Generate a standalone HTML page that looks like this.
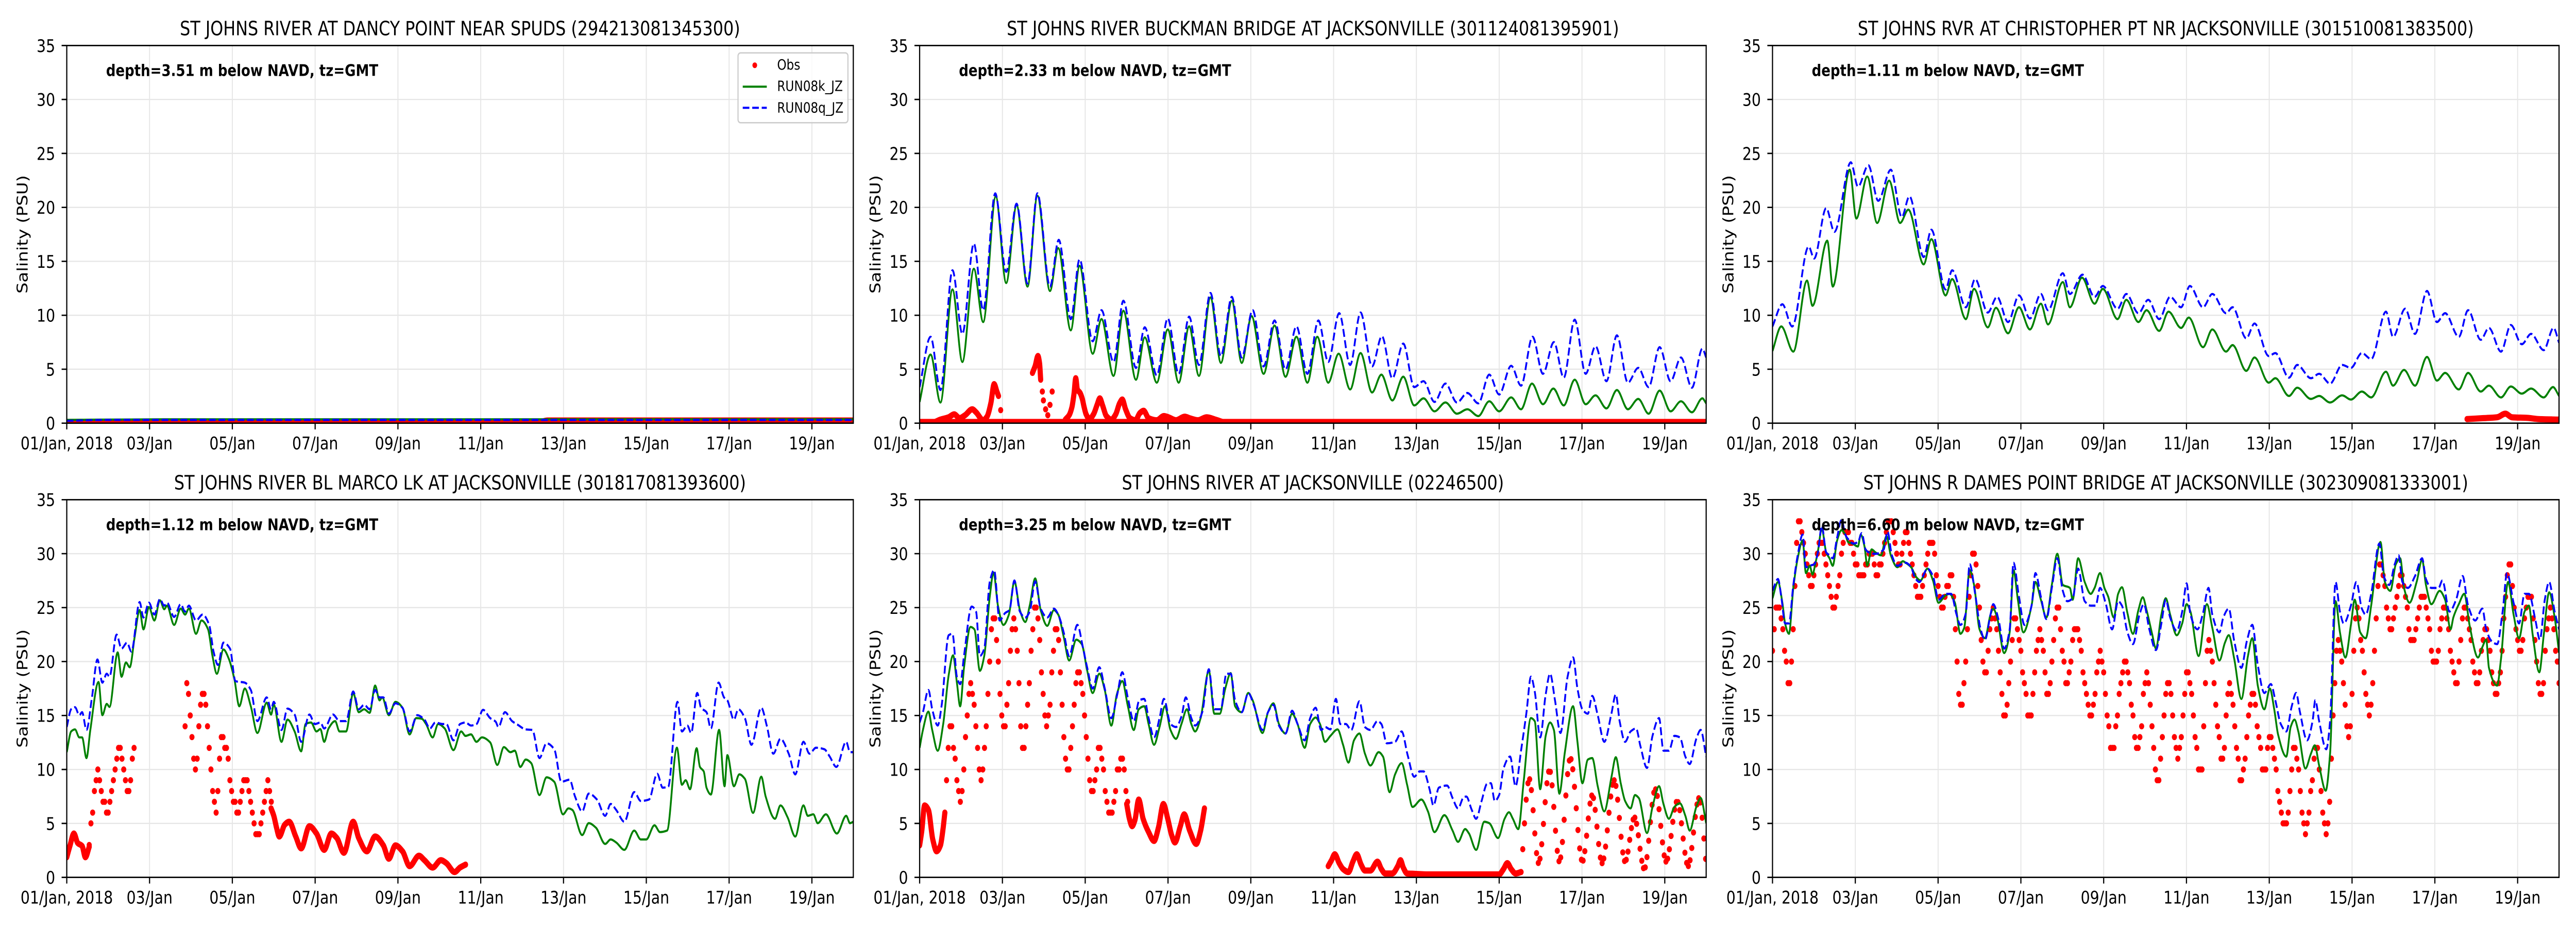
<!DOCTYPE html>
<html><head><meta charset="utf-8">
<style>
html,body{margin:0;padding:0;background:#fff;overflow:hidden;width:100%;height:100%;}
svg{display:block;width:100vw;height:100vh;}
text{font-family:"DejaVu Sans","Liberation Sans",sans-serif;fill:#000;}
.tl{font-size:34px;}
.ye text{text-anchor:end;}
.xm text{text-anchor:middle;}
.ti{font-size:38px;text-anchor:middle;}
.dp{font-size:31px;font-weight:bold;}
.lg{font-size:27.8px;}
.grid line{stroke:#e6e6e6;stroke-width:2.3;}
.tk{stroke:#000;stroke-width:2.7;fill:none;}
.fr{fill:none;stroke:#000;stroke-width:2.7;}
</style></head><body>
<svg id="s" xmlns="http://www.w3.org/2000/svg" viewBox="0 0 6000 1800" preserveAspectRatio="none">
<rect width="6000" height="1800" fill="#fff"/>
<defs><clipPath id="c"><rect x="0" y="0" width="1832" height="733.3"/></clipPath></defs>

<!-- Panel 0 -->
<g transform="translate(155.5,88.4)">
<g class="grid"><line x1="192.84" y1="0" x2="192.84" y2="733.3"/><line x1="385.68" y1="0" x2="385.68" y2="733.3"/><line x1="578.53" y1="0" x2="578.53" y2="733.3"/><line x1="771.37" y1="0" x2="771.37" y2="733.3"/><line x1="964.21" y1="0" x2="964.21" y2="733.3"/><line x1="1157.05" y1="0" x2="1157.05" y2="733.3"/><line x1="1349.89" y1="0" x2="1349.89" y2="733.3"/><line x1="1542.74" y1="0" x2="1542.74" y2="733.3"/><line x1="1735.58" y1="0" x2="1735.58" y2="733.3"/><line x1="0" y1="104.76" x2="1832" y2="104.76"/><line x1="0" y1="209.51" x2="1832" y2="209.51"/><line x1="0" y1="314.27" x2="1832" y2="314.27"/><line x1="0" y1="419.03" x2="1832" y2="419.03"/><line x1="0" y1="523.79" x2="1832" y2="523.79"/><line x1="0" y1="628.54" x2="1832" y2="628.54"/></g>
<g clip-path="url(#c)" id="d0"></g>
<rect class="fr" x="0" y="0" width="1832" height="733.3"/>
<path class="tk" d="M-12 0H0M-12 104.76H0M-12 209.51H0M-12 314.27H0M-12 419.03H0M-12 523.79H0M-12 628.54H0M-12 733.3H0M0 733.3V745.3M192.84 733.3V745.3M385.68 733.3V745.3M578.53 733.3V745.3M771.37 733.3V745.3M964.21 733.3V745.3M1157.05 733.3V745.3M1349.89 733.3V745.3M1542.74 733.3V745.3M1735.58 733.3V745.3"/>
<g class="tl ye"><text x="-27" y="12.4">35</text><text x="-27" y="117.2">30</text><text x="-27" y="221.9">25</text><text x="-27" y="326.7">20</text><text x="-27" y="431.4">15</text><text x="-27" y="536.2">10</text><text x="-27" y="641">5</text><text x="-27" y="745.7">0</text></g>
<g class="tl xm"><text x="0" y="784.3">01/Jan, 2018</text><text x="192.84" y="784.3">03/Jan</text><text x="385.68" y="784.3">05/Jan</text><text x="578.53" y="784.3">07/Jan</text><text x="771.37" y="784.3">09/Jan</text><text x="964.21" y="784.3">11/Jan</text><text x="1157.05" y="784.3">13/Jan</text><text x="1349.89" y="784.3">15/Jan</text><text x="1542.74" y="784.3">17/Jan</text><text x="1735.58" y="784.3">19/Jan</text></g>
<text class="tl" transform="translate(-102,366.65) rotate(-90)" text-anchor="middle" dominant-baseline="central">Salinity (PSU)</text>
<text class="ti" x="916" y="-20" textLength="1305" lengthAdjust="spacingAndGlyphs">ST JOHNS RIVER AT DANCY POINT NEAR SPUDS (294213081345300)</text>
<text class="dp" x="91.5" y="59.3" textLength="634" lengthAdjust="spacingAndGlyphs">depth=3.51 m below NAVD, tz=GMT</text>
<rect x="1563.5" y="14.3" width="256" height="135.6" rx="6" fill="#fff" fill-opacity="0.8" stroke="#cccccc" stroke-width="2.7"/>
<circle cx="1602.5" cy="38.3" r="5.5" fill="#ff0000"/>
<line x1="1574.5" y1="79.9" x2="1630.5" y2="79.9" stroke="#008000" stroke-width="4.2"/>
<line x1="1574.5" y1="120.9" x2="1630.5" y2="120.9" stroke="#0000ff" stroke-width="4.2" stroke-dasharray="15.4 6.7"/>
<text class="lg" x="1654.5" y="46.5">Obs</text>
<text class="lg" x="1654.5" y="88">RUN08k_JZ</text>
<text class="lg" x="1654.5" y="130">RUN08q_JZ</text>
</g>

<!-- Panel 1 -->
<g transform="translate(2142,88.4)">
<g class="grid"><line x1="192.84" y1="0" x2="192.84" y2="733.3"/><line x1="385.68" y1="0" x2="385.68" y2="733.3"/><line x1="578.53" y1="0" x2="578.53" y2="733.3"/><line x1="771.37" y1="0" x2="771.37" y2="733.3"/><line x1="964.21" y1="0" x2="964.21" y2="733.3"/><line x1="1157.05" y1="0" x2="1157.05" y2="733.3"/><line x1="1349.89" y1="0" x2="1349.89" y2="733.3"/><line x1="1542.74" y1="0" x2="1542.74" y2="733.3"/><line x1="1735.58" y1="0" x2="1735.58" y2="733.3"/><line x1="0" y1="104.76" x2="1832" y2="104.76"/><line x1="0" y1="209.51" x2="1832" y2="209.51"/><line x1="0" y1="314.27" x2="1832" y2="314.27"/><line x1="0" y1="419.03" x2="1832" y2="419.03"/><line x1="0" y1="523.79" x2="1832" y2="523.79"/><line x1="0" y1="628.54" x2="1832" y2="628.54"/></g>
<g clip-path="url(#c)" id="d1"></g>
<rect class="fr" x="0" y="0" width="1832" height="733.3"/>
<path class="tk" d="M-12 0H0M-12 104.76H0M-12 209.51H0M-12 314.27H0M-12 419.03H0M-12 523.79H0M-12 628.54H0M-12 733.3H0M0 733.3V745.3M192.84 733.3V745.3M385.68 733.3V745.3M578.53 733.3V745.3M771.37 733.3V745.3M964.21 733.3V745.3M1157.05 733.3V745.3M1349.89 733.3V745.3M1542.74 733.3V745.3M1735.58 733.3V745.3"/>
<g class="tl ye"><text x="-27" y="12.4">35</text><text x="-27" y="117.2">30</text><text x="-27" y="221.9">25</text><text x="-27" y="326.7">20</text><text x="-27" y="431.4">15</text><text x="-27" y="536.2">10</text><text x="-27" y="641">5</text><text x="-27" y="745.7">0</text></g>
<g class="tl xm"><text x="0" y="784.3">01/Jan, 2018</text><text x="192.84" y="784.3">03/Jan</text><text x="385.68" y="784.3">05/Jan</text><text x="578.53" y="784.3">07/Jan</text><text x="771.37" y="784.3">09/Jan</text><text x="964.21" y="784.3">11/Jan</text><text x="1157.05" y="784.3">13/Jan</text><text x="1349.89" y="784.3">15/Jan</text><text x="1542.74" y="784.3">17/Jan</text><text x="1735.58" y="784.3">19/Jan</text></g>
<text class="tl" transform="translate(-102,366.65) rotate(-90)" text-anchor="middle" dominant-baseline="central">Salinity (PSU)</text>
<text class="ti" x="916" y="-20" textLength="1426" lengthAdjust="spacingAndGlyphs">ST JOHNS RIVER BUCKMAN BRIDGE AT JACKSONVILLE (301124081395901)</text>
<text class="dp" x="91.5" y="59.3" textLength="634" lengthAdjust="spacingAndGlyphs">depth=2.33 m below NAVD, tz=GMT</text>
</g>

<!-- Panel 2 -->
<g transform="translate(4128.5,88.4)">
<g class="grid"><line x1="192.84" y1="0" x2="192.84" y2="733.3"/><line x1="385.68" y1="0" x2="385.68" y2="733.3"/><line x1="578.53" y1="0" x2="578.53" y2="733.3"/><line x1="771.37" y1="0" x2="771.37" y2="733.3"/><line x1="964.21" y1="0" x2="964.21" y2="733.3"/><line x1="1157.05" y1="0" x2="1157.05" y2="733.3"/><line x1="1349.89" y1="0" x2="1349.89" y2="733.3"/><line x1="1542.74" y1="0" x2="1542.74" y2="733.3"/><line x1="1735.58" y1="0" x2="1735.58" y2="733.3"/><line x1="0" y1="104.76" x2="1832" y2="104.76"/><line x1="0" y1="209.51" x2="1832" y2="209.51"/><line x1="0" y1="314.27" x2="1832" y2="314.27"/><line x1="0" y1="419.03" x2="1832" y2="419.03"/><line x1="0" y1="523.79" x2="1832" y2="523.79"/><line x1="0" y1="628.54" x2="1832" y2="628.54"/></g>
<g clip-path="url(#c)" id="d2"></g>
<rect class="fr" x="0" y="0" width="1832" height="733.3"/>
<path class="tk" d="M-12 0H0M-12 104.76H0M-12 209.51H0M-12 314.27H0M-12 419.03H0M-12 523.79H0M-12 628.54H0M-12 733.3H0M0 733.3V745.3M192.84 733.3V745.3M385.68 733.3V745.3M578.53 733.3V745.3M771.37 733.3V745.3M964.21 733.3V745.3M1157.05 733.3V745.3M1349.89 733.3V745.3M1542.74 733.3V745.3M1735.58 733.3V745.3"/>
<g class="tl ye"><text x="-27" y="12.4">35</text><text x="-27" y="117.2">30</text><text x="-27" y="221.9">25</text><text x="-27" y="326.7">20</text><text x="-27" y="431.4">15</text><text x="-27" y="536.2">10</text><text x="-27" y="641">5</text><text x="-27" y="745.7">0</text></g>
<g class="tl xm"><text x="0" y="784.3">01/Jan, 2018</text><text x="192.84" y="784.3">03/Jan</text><text x="385.68" y="784.3">05/Jan</text><text x="578.53" y="784.3">07/Jan</text><text x="771.37" y="784.3">09/Jan</text><text x="964.21" y="784.3">11/Jan</text><text x="1157.05" y="784.3">13/Jan</text><text x="1349.89" y="784.3">15/Jan</text><text x="1542.74" y="784.3">17/Jan</text><text x="1735.58" y="784.3">19/Jan</text></g>
<text class="tl" transform="translate(-102,366.65) rotate(-90)" text-anchor="middle" dominant-baseline="central">Salinity (PSU)</text>
<text class="ti" x="916" y="-20" textLength="1435" lengthAdjust="spacingAndGlyphs">ST JOHNS RVR AT CHRISTOPHER PT NR JACKSONVILLE (301510081383500)</text>
<text class="dp" x="91.5" y="59.3" textLength="634" lengthAdjust="spacingAndGlyphs">depth=1.11 m below NAVD, tz=GMT</text>
</g>

<!-- Panel 3 -->
<g transform="translate(155.5,970.3)">
<g class="grid"><line x1="192.84" y1="0" x2="192.84" y2="733.3"/><line x1="385.68" y1="0" x2="385.68" y2="733.3"/><line x1="578.53" y1="0" x2="578.53" y2="733.3"/><line x1="771.37" y1="0" x2="771.37" y2="733.3"/><line x1="964.21" y1="0" x2="964.21" y2="733.3"/><line x1="1157.05" y1="0" x2="1157.05" y2="733.3"/><line x1="1349.89" y1="0" x2="1349.89" y2="733.3"/><line x1="1542.74" y1="0" x2="1542.74" y2="733.3"/><line x1="1735.58" y1="0" x2="1735.58" y2="733.3"/><line x1="0" y1="104.76" x2="1832" y2="104.76"/><line x1="0" y1="209.51" x2="1832" y2="209.51"/><line x1="0" y1="314.27" x2="1832" y2="314.27"/><line x1="0" y1="419.03" x2="1832" y2="419.03"/><line x1="0" y1="523.79" x2="1832" y2="523.79"/><line x1="0" y1="628.54" x2="1832" y2="628.54"/></g>
<g clip-path="url(#c)" id="d3"></g>
<rect class="fr" x="0" y="0" width="1832" height="733.3"/>
<path class="tk" d="M-12 0H0M-12 104.76H0M-12 209.51H0M-12 314.27H0M-12 419.03H0M-12 523.79H0M-12 628.54H0M-12 733.3H0M0 733.3V745.3M192.84 733.3V745.3M385.68 733.3V745.3M578.53 733.3V745.3M771.37 733.3V745.3M964.21 733.3V745.3M1157.05 733.3V745.3M1349.89 733.3V745.3M1542.74 733.3V745.3M1735.58 733.3V745.3"/>
<g class="tl ye"><text x="-27" y="12.4">35</text><text x="-27" y="117.2">30</text><text x="-27" y="221.9">25</text><text x="-27" y="326.7">20</text><text x="-27" y="431.4">15</text><text x="-27" y="536.2">10</text><text x="-27" y="641">5</text><text x="-27" y="745.7">0</text></g>
<g class="tl xm"><text x="0" y="784.3">01/Jan, 2018</text><text x="192.84" y="784.3">03/Jan</text><text x="385.68" y="784.3">05/Jan</text><text x="578.53" y="784.3">07/Jan</text><text x="771.37" y="784.3">09/Jan</text><text x="964.21" y="784.3">11/Jan</text><text x="1157.05" y="784.3">13/Jan</text><text x="1349.89" y="784.3">15/Jan</text><text x="1542.74" y="784.3">17/Jan</text><text x="1735.58" y="784.3">19/Jan</text></g>
<text class="tl" transform="translate(-102,366.65) rotate(-90)" text-anchor="middle" dominant-baseline="central">Salinity (PSU)</text>
<text class="ti" x="916" y="-20" textLength="1332" lengthAdjust="spacingAndGlyphs">ST JOHNS RIVER BL MARCO LK AT JACKSONVILLE (301817081393600)</text>
<text class="dp" x="91.5" y="59.3" textLength="634" lengthAdjust="spacingAndGlyphs">depth=1.12 m below NAVD, tz=GMT</text>
</g>

<!-- Panel 4 -->
<g transform="translate(2142,970.3)">
<g class="grid"><line x1="192.84" y1="0" x2="192.84" y2="733.3"/><line x1="385.68" y1="0" x2="385.68" y2="733.3"/><line x1="578.53" y1="0" x2="578.53" y2="733.3"/><line x1="771.37" y1="0" x2="771.37" y2="733.3"/><line x1="964.21" y1="0" x2="964.21" y2="733.3"/><line x1="1157.05" y1="0" x2="1157.05" y2="733.3"/><line x1="1349.89" y1="0" x2="1349.89" y2="733.3"/><line x1="1542.74" y1="0" x2="1542.74" y2="733.3"/><line x1="1735.58" y1="0" x2="1735.58" y2="733.3"/><line x1="0" y1="104.76" x2="1832" y2="104.76"/><line x1="0" y1="209.51" x2="1832" y2="209.51"/><line x1="0" y1="314.27" x2="1832" y2="314.27"/><line x1="0" y1="419.03" x2="1832" y2="419.03"/><line x1="0" y1="523.79" x2="1832" y2="523.79"/><line x1="0" y1="628.54" x2="1832" y2="628.54"/></g>
<g clip-path="url(#c)" id="d4"></g>
<rect class="fr" x="0" y="0" width="1832" height="733.3"/>
<path class="tk" d="M-12 0H0M-12 104.76H0M-12 209.51H0M-12 314.27H0M-12 419.03H0M-12 523.79H0M-12 628.54H0M-12 733.3H0M0 733.3V745.3M192.84 733.3V745.3M385.68 733.3V745.3M578.53 733.3V745.3M771.37 733.3V745.3M964.21 733.3V745.3M1157.05 733.3V745.3M1349.89 733.3V745.3M1542.74 733.3V745.3M1735.58 733.3V745.3"/>
<g class="tl ye"><text x="-27" y="12.4">35</text><text x="-27" y="117.2">30</text><text x="-27" y="221.9">25</text><text x="-27" y="326.7">20</text><text x="-27" y="431.4">15</text><text x="-27" y="536.2">10</text><text x="-27" y="641">5</text><text x="-27" y="745.7">0</text></g>
<g class="tl xm"><text x="0" y="784.3">01/Jan, 2018</text><text x="192.84" y="784.3">03/Jan</text><text x="385.68" y="784.3">05/Jan</text><text x="578.53" y="784.3">07/Jan</text><text x="771.37" y="784.3">09/Jan</text><text x="964.21" y="784.3">11/Jan</text><text x="1157.05" y="784.3">13/Jan</text><text x="1349.89" y="784.3">15/Jan</text><text x="1542.74" y="784.3">17/Jan</text><text x="1735.58" y="784.3">19/Jan</text></g>
<text class="tl" transform="translate(-102,366.65) rotate(-90)" text-anchor="middle" dominant-baseline="central">Salinity (PSU)</text>
<text class="ti" x="916" y="-20" textLength="890" lengthAdjust="spacingAndGlyphs">ST JOHNS RIVER AT JACKSONVILLE (02246500)</text>
<text class="dp" x="91.5" y="59.3" textLength="634" lengthAdjust="spacingAndGlyphs">depth=3.25 m below NAVD, tz=GMT</text>
</g>

<!-- Panel 5 -->
<g transform="translate(4128.5,970.3)">
<g class="grid"><line x1="192.84" y1="0" x2="192.84" y2="733.3"/><line x1="385.68" y1="0" x2="385.68" y2="733.3"/><line x1="578.53" y1="0" x2="578.53" y2="733.3"/><line x1="771.37" y1="0" x2="771.37" y2="733.3"/><line x1="964.21" y1="0" x2="964.21" y2="733.3"/><line x1="1157.05" y1="0" x2="1157.05" y2="733.3"/><line x1="1349.89" y1="0" x2="1349.89" y2="733.3"/><line x1="1542.74" y1="0" x2="1542.74" y2="733.3"/><line x1="1735.58" y1="0" x2="1735.58" y2="733.3"/><line x1="0" y1="104.76" x2="1832" y2="104.76"/><line x1="0" y1="209.51" x2="1832" y2="209.51"/><line x1="0" y1="314.27" x2="1832" y2="314.27"/><line x1="0" y1="419.03" x2="1832" y2="419.03"/><line x1="0" y1="523.79" x2="1832" y2="523.79"/><line x1="0" y1="628.54" x2="1832" y2="628.54"/></g>
<g clip-path="url(#c)" id="d5"></g>
<rect class="fr" x="0" y="0" width="1832" height="733.3"/>
<path class="tk" d="M-12 0H0M-12 104.76H0M-12 209.51H0M-12 314.27H0M-12 419.03H0M-12 523.79H0M-12 628.54H0M-12 733.3H0M0 733.3V745.3M192.84 733.3V745.3M385.68 733.3V745.3M578.53 733.3V745.3M771.37 733.3V745.3M964.21 733.3V745.3M1157.05 733.3V745.3M1349.89 733.3V745.3M1542.74 733.3V745.3M1735.58 733.3V745.3"/>
<g class="tl ye"><text x="-27" y="12.4">35</text><text x="-27" y="117.2">30</text><text x="-27" y="221.9">25</text><text x="-27" y="326.7">20</text><text x="-27" y="431.4">15</text><text x="-27" y="536.2">10</text><text x="-27" y="641">5</text><text x="-27" y="745.7">0</text></g>
<g class="tl xm"><text x="0" y="784.3">01/Jan, 2018</text><text x="192.84" y="784.3">03/Jan</text><text x="385.68" y="784.3">05/Jan</text><text x="578.53" y="784.3">07/Jan</text><text x="771.37" y="784.3">09/Jan</text><text x="964.21" y="784.3">11/Jan</text><text x="1157.05" y="784.3">13/Jan</text><text x="1349.89" y="784.3">15/Jan</text><text x="1542.74" y="784.3">17/Jan</text><text x="1735.58" y="784.3">19/Jan</text></g>
<text class="tl" transform="translate(-102,366.65) rotate(-90)" text-anchor="middle" dominant-baseline="central">Salinity (PSU)</text>
<text class="ti" x="916" y="-20" textLength="1409" lengthAdjust="spacingAndGlyphs">ST JOHNS R DAMES POINT BRIDGE AT JACKSONVILLE (302309081333001)</text>
<text class="dp" id="dp5" x="91.5" y="59.3" textLength="634" lengthAdjust="spacingAndGlyphs">depth=6.60 m below NAVD, tz=GMT</text>
</g>
</svg>
<script>
(function(){
var W=1832,H=733.3,NS='http://www.w3.org/2000/svg';
var ZL=[122,112,102], ZR=[[155,1432],[122,1398]];
function f(v){return (Math.round(v*10)/10).toString();}
function conv(p,d){var zl=ZL[p%3],r=ZR[Math.floor(p/3)];return d.map(function(q){return [(q[0]-zl)*W/1436,(q[1]-r[0])*H/(r[1]-r[0])];});}
function prep(P){var n=P.length,dx=[],m=[],t=new Array(n),i;
 for(i=0;i<n-1;i++){dx[i]=(P[i+1][0]-P[i][0])||1e-6;m[i]=(P[i+1][1]-P[i][1])/dx[i];}
 t[0]=m[0];t[n-1]=m[n-2];
 for(i=1;i<n-1;i++){if(m[i-1]*m[i]<=0)t[i]=0;else{var w1=2*dx[i]+dx[i-1],w2=dx[i]+2*dx[i-1];t[i]=(w1+w2)/(w1/m[i-1]+w2/m[i]);}}
 return {P:P,dx:dx,t:t};}
function pathOf(o){var P=o.P,dx=o.dx,t=o.t,d='M'+f(P[0][0])+' '+f(P[0][1]);
 for(var i=0;i<P.length-1;i++){var h=dx[i]/3;d+='C'+f(P[i][0]+h)+' '+f(P[i][1]+t[i]*h)+' '+f(P[i+1][0]-h)+' '+f(P[i+1][1]-t[i+1]*h)+' '+f(P[i+1][0])+' '+f(P[i+1][1]);}
 return d;}
function evalAt(o,x){var P=o.P,dx=o.dx,t=o.t,i=0;while(i<P.length-2&&x>P[i+1][0])i++;
 var h=dx[i],s=(x-P[i][0])/h,s2=s*s,s3=s2*s;
 return (2*s3-3*s2+1)*P[i][1]+(s3-2*s2+s)*h*t[i]+(-2*s3+3*s2)*P[i+1][1]+(s3-s2)*h*t[i+1];}
function el(tag,a,par){var e=document.createElementNS(NS,tag);for(var k in a)e.setAttribute(k,a[k]);par.appendChild(e);return e;}

var S=[
{p:0,k:'band',d:[[122,1428],[985,1428],[1000,1423],[1558,1423]]},
{p:0,k:'g',d:[[122,1421],[300,1419],[900,1419],[1558,1419]]},
{p:0,k:'b',d:[[122,1424],[200,1421],[1558,1421]]},
{p:1,k:'band',d:[[112,1428],[1548,1428]]},
{p:1,k:'band',d:[[140,1428],[150,1420],[165,1412],[175,1402],[185,1415],[195,1405],[208,1385],[215,1395],[228,1422],[235,1410],[242,1365],[248,1300],[253,1325],[256,1340]]},
{p:1,k:'pts',d:[[260,1388],[336,1325],[338,1355],[342,1385],[346,1405],[350,1370],[354,1325]]},
{p:1,k:'band',d:[[318,1262],[323,1238],[328,1205],[331,1230],[333,1285]]},
{p:1,k:'band',d:[[378,1420],[385,1405],[390,1378],[394,1330],[397,1280],[400,1318],[405,1330],[409,1350],[412,1375],[416,1402],[422,1418],[430,1400],[436,1370],[441,1348],[446,1372],[453,1408],[462,1420],[470,1402],[477,1365],[482,1352],[488,1385],[496,1415],[506,1422],[514,1398],[521,1390],[530,1415],[545,1422],[558,1408],[566,1412],[580,1422],[596,1410],[606,1416],[620,1422],[636,1412],[652,1420],[665,1428]]},
{p:1,k:'g',d:[[112,1360],[132,1200],[150,1362],[172,980],[190,1225],[211,910],[228,1090],[251,665],[270,958],[289,695],[309,970],[327,663],[350,985],[365,840],[388,1118],[404,900],[428,1197],[444,1080],[466,1272],[484,1052],[507,1285],[523,1142],[545,1295],[565,1115],[585,1295],[604,1105],[622,1272],[643,1007],[662,1228],[682,1018],[700,1228],[718,1070],[740,1265],[760,1102],[780,1275],[800,1140],[820,1295],[838,1140],[858,1295],[877,1197],[898,1318],[917,1195],[938,1328],[955,1268],[975,1355],[995,1275],[1015,1372],[1032,1348],[1052,1392],[1072,1362],[1093,1400],[1112,1385],[1132,1408],[1152,1358],[1170,1392],[1192,1345],[1210,1385],[1230,1298],[1250,1368],[1269,1315],[1288,1372],[1308,1285],[1328,1368],[1346,1338],[1366,1382],[1385,1320],[1405,1385],[1424,1350],[1443,1400],[1463,1322],[1483,1392],[1502,1358],[1522,1395],[1541,1348],[1548,1365]]},
{p:1,k:'b',d:[[112,1310],[132,1140],[150,1320],[172,915],[190,1130],[211,825],[228,1050],[250,655],[270,920],[289,690],[309,960],[327,655],[350,970],[366,812],[388,1080],[404,878],[428,1155],[444,1050],[466,1225],[484,1018],[507,1245],[523,1108],[545,1270],[565,1078],[585,1265],[604,1072],[622,1235],[643,992],[662,1205],[682,1005],[700,1210],[720,1050],[740,1240],[760,1085],[780,1250],[800,1105],[820,1265],[840,1085],[858,1225],[878,1060],[898,1235],[917,1058],[938,1240],[956,1138],[975,1280],[995,1163],[1015,1310],[1032,1290],[1052,1360],[1072,1298],[1093,1362],[1112,1330],[1132,1365],[1152,1268],[1170,1335],[1192,1238],[1210,1305],[1231,1140],[1250,1265],[1270,1158],[1288,1278],[1308,1082],[1328,1265],[1346,1172],[1366,1290],[1385,1135],[1405,1295],[1424,1245],[1443,1310],[1463,1175],[1483,1290],[1502,1210],[1522,1312],[1541,1180],[1548,1210]]},
{p:2,k:'band',d:[[1370,1418],[1400,1415],[1425,1412],[1440,1400],[1452,1412],[1480,1414],[1500,1418],[1538,1420]]},
{p:2,k:'g',d:[[102,1188],[118,1105],[140,1190],[165,950],[175,1035],[202,815],[212,970],[243,575],[255,740],[275,598],[293,755],[315,612],[335,755],[350,710],[378,895],[392,810],[418,1000],[430,945],[455,1080],[470,978],[495,1108],[510,1042],[532,1128],[552,1040],[572,1115],[592,1028],[605,1098],[632,955],[645,1040],[667,940],[690,1028],[705,978],[732,1080],[748,1015],[770,1090],[785,1050],[808,1120],[825,1055],[848,1110],[862,1075],[888,1175],[905,1115],[930,1190],[942,1168],[967,1255],[982,1210],[1008,1295],[1020,1280],[1045,1340],[1060,1312],[1085,1350],[1100,1340],[1120,1362],[1142,1338],[1158,1352],[1178,1325],[1195,1345],[1222,1258],[1235,1305],[1255,1252],[1275,1305],[1297,1208],[1315,1288],[1330,1262],[1355,1318],[1372,1262],[1395,1325],[1410,1305],[1432,1345],[1450,1308],[1470,1332],[1487,1315],[1510,1345],[1527,1310],[1538,1340]]},
{p:2,k:'b',d:[[102,1105],[120,1030],[138,1105],[168,835],[178,875],[200,705],[215,785],[245,550],[258,632],[277,560],[295,680],[318,575],[338,735],[352,665],[378,870],[392,778],[418,980],[430,915],[455,1040],[472,945],[495,1058],[512,1005],[532,1090],[552,1000],[572,1078],[592,995],[605,1050],[632,925],[645,995],[668,930],[690,1005],[705,968],[732,1045],[748,995],[770,1060],[788,1015],[808,1080],[828,1005],[848,1040],[864,968],[888,1040],[905,995],[930,1060],[942,1040],[967,1145],[982,1095],[1008,1205],[1020,1195],[1045,1278],[1060,1235],[1085,1280],[1100,1265],[1120,1298],[1142,1235],[1158,1245],[1178,1195],[1195,1215],[1222,1055],[1235,1140],[1257,1045],[1275,1130],[1297,985],[1315,1090],[1330,1060],[1355,1140],[1372,1050],[1395,1150],[1410,1110],[1432,1190],[1450,1100],[1470,1165],[1487,1130],[1510,1185],[1528,1110],[1538,1160]]},
{p:3,k:'band',d:[[122,1330],[128,1290],[135,1250],[142,1282],[150,1292],[156,1330],[163,1295]]},
{p:3,k:'dots',q:1,d:[[163,1295],[178,1045],[196,1180],[218,960],[233,1110],[245,960]]},
{p:3,k:'dots',q:1,d:[[338,870],[342,742],[356,1035],[370,778],[395,1165],[405,925],[435,1185],[447,1070],[472,1260],[488,1085],[497,1170]]},
{p:3,k:'band',d:[[495,1165],[500,1190],[505,1230],[510,1260],[520,1220],[528,1210],[540,1260],[550,1300],[565,1225],[578,1250],[592,1305],[605,1250],[615,1265],[628,1315],[645,1210],[655,1265],[670,1310],[685,1260],[700,1290],[710,1335],[722,1290],[735,1310],[748,1360],[765,1325],[775,1340],[790,1365],[805,1340],[815,1350],[830,1380],[840,1365],[850,1355]]},
{p:3,k:'g',d:[[122,975],[130,905],[137,898],[145,925],[150,925],[158,995],[165,900],[180,738],[187,850],[195,812],[200,822],[215,638],[222,720],[230,672],[237,688],[246,585],[255,495],[262,560],[272,485],[282,530],[292,462],[300,492],[305,480],[318,545],[330,490],[338,510],[345,490],[358,575],[368,530],[380,560],[388,650],[396,710],[408,628],[418,660],[428,728],[437,820],[447,760],[458,820],[470,910],[487,808],[495,848],[500,815],[514,940],[525,865],[538,905],[550,972],[558,880],[568,875],[578,905],[585,897],[592,940],[600,895],[612,870],[620,905],[632,905],[645,775],[655,840],[665,830],[675,842],[685,750],[693,800],[698,790],[710,850],[722,805],[735,825],[748,915],[760,860],[770,862],[778,880],[790,925],[800,880],[812,895],[828,968],[842,905],[850,920],[860,915],[870,940],[880,925],[895,942],[908,1018],[920,958],[932,975],[940,970],[950,1025],[960,1000],[970,1012],[985,1120],[998,1060],[1012,1075],[1028,1185],[1038,1165],[1045,1170],[1063,1255],[1075,1215],[1088,1230],[1105,1285],[1115,1270],[1125,1280],[1140,1305],[1158,1240],[1170,1270],[1180,1270],[1195,1222],[1205,1245],[1218,1240],[1236,960],[1245,1085],[1252,1070],[1260,1100],[1272,962],[1278,1025],[1285,1040],[1290,1095],[1298,1118],[1313,900],[1323,1090],[1328,985],[1340,1090],[1350,1050],[1360,1065],[1375,1180],[1390,1058],[1398,1125],[1415,1200],[1425,1155],[1438,1195],[1452,1260],[1467,1155],[1475,1190],[1485,1185],[1493,1215],[1508,1185],[1528,1250],[1545,1190],[1552,1215],[1558,1210]]},
{p:3,k:'b',d:[[122,890],[130,830],[137,823],[145,850],[150,840],[158,900],[168,790],[178,662],[187,740],[195,710],[200,720],[213,578],[222,625],[232,605],[240,635],[255,468],[262,520],[272,470],[282,510],[292,458],[300,480],[305,470],[318,518],[330,475],[338,500],[345,480],[358,530],[370,510],[382,545],[390,635],[398,680],[408,605],[420,625],[430,735],[447,740],[458,765],[470,870],[487,790],[495,830],[500,805],[514,900],[525,828],[538,848],[550,940],[565,848],[575,880],[585,875],[592,895],[608,848],[620,870],[632,870],[645,770],[655,830],[665,815],[675,830],[685,765],[693,790],[700,790],[710,845],[722,810],[735,825],[748,905],[762,850],[775,865],[785,895],[795,875],[808,880],[815,880],[828,935],[840,880],[850,875],[860,885],[870,880],[882,832],[895,860],[905,872],[910,890],[922,840],[935,870],[945,882],[960,898],[972,900],[985,995],[998,945],[1012,965],[1025,1075],[1040,1068],[1050,1125],[1063,1175],[1075,1115],[1090,1135],[1105,1190],[1115,1150],[1125,1170],[1140,1210],[1158,1110],[1170,1140],[1185,1135],[1200,1048],[1210,1095],[1220,1092],[1237,805],[1245,905],[1255,885],[1262,910],[1273,775],[1280,825],[1290,840],[1298,895],[1312,740],[1322,790],[1328,800],[1340,865],[1348,830],[1360,860],[1372,950],[1390,825],[1400,885],[1412,980],[1425,930],[1440,980],[1452,1050],[1467,940],[1478,980],[1490,960],[1505,965],[1515,990],[1527,1025],[1545,940],[1552,975],[1558,975]]},
{p:4,k:'band',d:[[112,1290],[116,1240],[121,1155],[128,1170],[136,1270],[143,1310],[150,1290],[155,1230],[158,1180]]},
{p:4,k:'dots',q:1,d:[[158,1180],[168,888],[186,1130],[205,742],[225,1060],[247,523],[266,890],[285,523],[301,962],[324,487],[344,888],[362,560],[382,1040],[402,705],[428,1110],[440,962],[459,1195],[480,1000],[492,1150]]},
{p:4,k:'band',d:[[490,1150],[495,1200],[500,1225],[505,1205],[512,1135],[520,1200],[530,1245],[540,1275],[548,1230],[557,1150],[565,1200],[572,1255],[578,1280],[588,1225],[595,1185],[605,1240],[617,1285],[625,1240],[632,1165]]},
{p:4,k:'band',d:[[858,1360],[864,1340],[870,1320],[878,1350],[885,1370],[895,1380],[903,1345],[910,1320],[918,1355],[925,1375],[935,1375],[948,1345],[955,1370],[962,1385],[975,1385],[985,1360],[990,1340],[995,1365],[1002,1385],[1015,1386],[1040,1388],[1170,1388],[1178,1370],[1185,1350],[1192,1370],[1200,1385],[1210,1380]]},
{p:4,k:'dots',q:0,d:[[1210,1380],[1225,1065],[1242,1350],[1262,1035],[1280,1345],[1300,995],[1322,1345],[1340,1120],[1358,1350],[1380,1070],[1400,1345],[1417,1195],[1435,1370],[1455,1100],[1475,1345],[1495,1140],[1515,1360],[1535,1130],[1548,1355]]},
{p:4,k:'g',d:[[112,960],[118,900],[128,838],[135,900],[145,970],[155,880],[165,715],[173,648],[180,740],[186,820],[193,690],[205,552],[212,560],[222,700],[230,650],[240,450],[247,368],[255,480],[265,545],[275,510],[285,398],[295,495],[305,535],[313,480],[323,388],[333,495],[345,548],[357,495],[365,510],[375,585],[385,665],[398,595],[408,610],[418,700],[428,775],[440,710],[450,765],[462,885],[472,780],[482,735],[492,818],[503,900],[512,830],[522,820],[530,880],[540,950],[550,890],[560,820],[570,900],[580,930],[590,880],[600,830],[608,880],[615,905],[625,860],[640,700],[650,845],[660,845],[670,760],[680,708],[688,820],[700,840],[712,775],[720,800],[738,910],[748,840],[758,810],[768,880],[780,912],[792,845],[802,880],[815,960],[825,880],[835,858],[843,880],[852,940],[862,920],[875,898],[885,950],[895,1010],[905,935],[915,912],[925,980],[935,1020],[950,975],[958,990],[970,1110],[980,1050],[992,1012],[1002,1085],[1012,1160],[1028,1135],[1040,1175],[1052,1245],[1070,1188],[1085,1240],[1095,1278],[1108,1235],[1115,1250],[1128,1305],[1143,1210],[1152,1215],[1168,1265],[1180,1200],[1188,1178],[1195,1200],[1205,1235],[1215,1070],[1228,860],[1235,870],[1245,1100],[1255,920],[1263,875],[1270,900],[1280,1115],[1290,975],[1305,820],[1313,940],[1322,1080],[1332,1000],[1340,995],[1350,1090],[1362,1175],[1375,1060],[1383,992],[1392,1080],[1400,1140],[1410,1165],[1418,1120],[1425,1130],[1440,1248],[1450,1160],[1462,1090],[1470,1150],[1480,1200],[1490,1160],[1500,1148],[1510,1190],[1518,1240],[1530,1160],[1538,1130],[1548,1215]]},
{p:4,k:'b',d:[[112,875],[118,840],[128,765],[135,830],[145,885],[152,820],[165,580],[172,575],[180,720],[186,745],[193,650],[207,483],[215,500],[222,650],[230,625],[240,400],[248,360],[258,530],[268,505],[276,495],[285,395],[295,500],[305,520],[313,500],[323,398],[333,490],[345,520],[357,490],[365,510],[375,570],[385,650],[400,545],[410,620],[418,690],[428,760],[440,688],[450,760],[462,860],[473,778],[482,705],[492,790],[503,870],[513,800],[522,795],[530,860],[540,925],[550,860],[558,795],[570,880],[580,890],[590,855],[598,790],[608,860],[615,885],[628,840],[640,695],[650,830],[662,830],[672,710],[680,710],[688,800],[700,840],[712,775],[722,815],[738,900],[748,840],[758,815],[768,885],[780,912],[792,835],[802,880],[815,935],[825,860],[835,825],[845,900],[852,890],[862,898],[872,795],[880,880],[890,880],[900,900],[915,803],[925,890],[935,900],[948,870],[955,880],[965,945],[980,940],[992,905],[1003,985],[1015,1058],[1025,1040],[1032,1040],[1043,1100],[1050,1155],[1060,1095],[1075,1088],[1085,1130],[1095,1165],[1105,1128],[1110,1125],[1120,1170],[1128,1200],[1138,1140],[1148,1082],[1155,1080],[1162,1140],[1170,1120],[1178,1030],[1190,990],[1200,1090],[1210,970],[1220,840],[1228,720],[1235,770],[1245,925],[1255,780],[1263,710],[1272,800],[1282,910],[1295,720],[1305,655],[1313,760],[1322,830],[1332,845],[1340,785],[1350,850],[1362,940],[1375,845],[1383,780],[1390,870],[1400,940],[1410,905],[1420,895],[1428,955],[1440,1028],[1450,920],[1462,860],[1470,970],[1480,970],[1490,920],[1500,925],[1510,990],[1518,1015],[1530,930],[1538,900],[1548,990]]},
{p:5,k:'dots',q:1,d:[[102,632],[110,487],[118,523],[133,742],[150,195],[163,300],[172,413],[190,268],[215,487],[235,230],[265,377],[282,300],[292,377],[318,195],[332,340],[346,230],[370,450],[392,268],[412,487],[428,377],[446,815],[470,300],[490,705],[505,487],[527,852],[545,523],[572,852],[590,560],[605,777],[622,487],[640,742],[655,560],[685,852],[700,632],[722,962],[745,670],[770,962],[785,705],[805,1075],[825,742],[842,1000],[860,705],[884,1045],[898,597],[924,1000],[936,742],[958,1068],[978,777],[1000,1035],[1010,925],[1038,1230],[1055,962],[1076,1238],[1095,962],[1113,1255],[1135,597],[1155,925],[1168,487],[1192,852],[1212,340],[1230,560],[1250,377],[1270,597],[1290,450],[1312,670],[1328,487],[1350,742],[1366,487],[1390,742],[1402,560],[1425,777],[1448,340],[1465,632],[1485,450],[1505,777],[1522,487],[1538,742]]},
{p:5,k:'g',d:[[102,455],[112,400],[120,470],[125,540],[132,575],[140,420],[148,320],[157,260],[163,370],[170,345],[175,375],[180,340],[185,295],[192,220],[200,300],[206,320],[212,345],[220,260],[228,225],[235,240],[240,265],[248,270],[258,280],[263,240],[270,280],[275,345],[283,290],[290,300],[300,310],[310,245],[318,310],[330,350],[340,330],[345,335],[355,350],[365,385],[372,395],[385,355],[395,395],[405,470],[418,445],[425,440],[435,470],[445,575],[452,555],[462,360],[470,410],[480,560],[490,590],[500,510],[505,490],[512,520],[525,640],[535,570],[542,360],[550,460],[560,570],[575,480],[582,400],[592,460],[602,520],[612,410],[622,305],[632,410],[645,420],[650,460],[660,320],[672,400],[683,440],[690,420],[700,370],[708,420],[715,450],[725,520],[733,440],[740,418],[750,505],[760,575],[770,495],[778,452],[785,495],[795,575],[802,625],[812,510],[820,455],[828,510],[840,580],[850,540],[858,475],[865,500],[880,650],[895,475],[905,555],[918,665],[928,605],[935,580],[945,660],[958,795],[970,650],[978,590],[988,750],[1000,830],[1010,760],[1018,830],[1025,915],[1040,990],[1048,890],[1055,865],[1062,905],[1075,1030],[1085,980],[1092,952],[1100,1020],[1112,1105],[1120,980],[1130,465],[1138,570],[1148,655],[1158,545],[1165,460],[1175,570],[1185,590],[1195,480],[1212,265],[1220,400],[1230,430],[1240,340],[1248,320],[1255,420],[1265,470],[1278,400],[1288,325],[1295,410],[1305,475],[1320,430],[1330,460],[1340,560],[1345,520],[1355,475],[1365,440],[1375,550],[1390,655],[1398,620],[1405,595],[1410,690],[1425,750],[1432,660],[1445,400],[1455,510],[1465,590],[1475,500],[1483,480],[1490,580],[1502,705],[1510,580],[1520,435],[1530,520],[1538,640]]},
{p:5,k:'b',d:[[102,430],[112,390],[118,450],[125,540],[132,540],[140,410],[148,310],[157,240],[163,350],[170,345],[178,340],[185,300],[192,210],[200,300],[206,310],[212,320],[220,250],[228,190],[235,240],[240,255],[250,270],[258,265],[265,235],[272,290],[278,300],[290,305],[305,290],[312,230],[320,310],[330,345],[345,335],[355,350],[362,385],[370,400],[385,355],[395,380],[405,460],[418,440],[428,440],[438,510],[445,545],[455,505],[462,340],[472,440],[482,560],[490,595],[500,510],[505,475],[515,530],[525,625],[535,560],[542,335],[552,450],[562,545],[575,480],[582,370],[592,450],[602,525],[612,420],[622,320],[632,430],[640,465],[650,455],[660,355],[672,465],[683,480],[692,480],[700,420],[710,470],[722,560],[733,465],[740,480],[750,570],[760,610],[772,510],[780,475],[790,560],[802,630],[812,540],[820,460],[828,520],[840,565],[850,500],[858,405],[865,510],[878,560],[888,505],[898,420],[905,510],[918,570],[925,520],[935,490],[945,600],[958,690],[968,600],[978,545],[988,680],[1000,775],[1012,745],[1020,800],[1030,880],[1040,905],[1050,820],[1058,775],[1065,840],[1078,935],[1088,870],[1093,800],[1100,870],[1113,965],[1120,870],[1130,400],[1138,500],[1145,540],[1158,480],[1168,400],[1178,490],[1185,510],[1195,440],[1210,270],[1218,380],[1228,410],[1238,340],[1245,310],[1252,400],[1262,420],[1275,380],[1288,320],[1295,390],[1305,420],[1318,420],[1325,395],[1338,500],[1350,460],[1362,380],[1372,480],[1385,530],[1398,490],[1405,560],[1415,600],[1425,610],[1435,500],[1443,370],[1455,470],[1465,540],[1475,440],[1483,440],[1495,530],[1503,595],[1512,460],[1520,400],[1530,500],[1538,560]]}
];
var hr=W/19/24, ppu=H/35;
S.forEach(function(s){
 var g=document.getElementById('d'+s.p); if(!g) return;
 var P=conv(s.p,s.d);
 if(s.k==='pts'){P.forEach(function(q){el('circle',{cx:f(q[0]),cy:f(q[1]),r:6,fill:'#ff0000'},g);});return;}
 var o=prep(P);
 if(s.k==='dots'){
  var x0=P[0][0],x1=P[P.length-1][0];
  for(var x=x0;x<=x1+0.01;x+=hr){
   var y=evalAt(o,x);
   if(s.q){var v=Math.round((H-y)/ppu);y=H-v*ppu;}
   el('circle',{cx:f(x),cy:f(y),r:6,fill:'#ff0000'},g);
  }
  return;
 }
 var a={d:pathOf(o),fill:'none','stroke-linejoin':'round'};
 if(s.k==='band'){a.stroke='#ff0000';a['stroke-width']=12;a['stroke-linecap']='round';}
 else if(s.k==='g'){a.stroke='#008000';a['stroke-width']=4.2;}
 else {a.stroke='#0000ff';a['stroke-width']=4.2;a['stroke-dasharray']='15.4 6.7';}
 el('path',a,g);
});
})();
</script>
</body></html>
